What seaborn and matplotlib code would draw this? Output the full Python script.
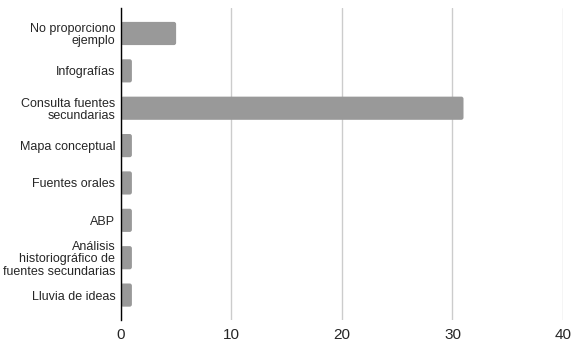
import pandas as pd
import seaborn as sns
import matplotlib.pyplot as plt
from matplotlib.patches import FancyBboxPatch

# categorías y valores
categorias = [
    "No proporciono\nejemplo",
    "Infografías",
    "Consulta fuentes\nsecundarias",
    "Mapa conceptual",
    "Fuentes orales",
    "ABP",
    "Análisis\nhistoriográfico de\nfuentes secundarias",
    "Lluvia de ideas",
]
valores = [5, 1, 31, 1, 1, 1, 1, 1]
ticks_x = [0, 10, 20, 30, 40]

df = pd.DataFrame({"categoria": categorias, "valor": valores})

sns.set_style("white")
plt.rcParams["font.family"] = ["Liberation Sans", "DejaVu Sans"]

fig = plt.figure(figsize=(5.81, 3.51), dpi=100)
ax = fig.add_axes([0.208, 0.088, 0.761, 0.889])

sns.barplot(data=df, x="valor", y="categoria", color="#999999", saturation=1,
            width=0.62, ax=ax, zorder=3)

# esquinas ligeramente redondeadas
for p in list(ax.patches):
    x0, y0 = p.get_x(), p.get_y()
    w, h = p.get_width(), p.get_height()
    r = FancyBboxPatch((x0, y0), w, h,
                       boxstyle="round,pad=0,rounding_size=0.2",
                       mutation_aspect=0.3,
                       facecolor="#999999", edgecolor="none", zorder=3)
    p.remove()
    ax.add_patch(r)

ax.set_xlim(0, 40)
ax.set_ylim(7.67, -0.68)
ax.set_xticks(ticks_x)
ax.xaxis.grid(True, color="#cccccc", linewidth=1, zorder=0)
ax.set_axisbelow(True)
ax.tick_params(axis="x", length=0, labelsize=11, pad=6)
ax.tick_params(axis="y", length=0, labelsize=9, pad=4)
for lbl in ax.get_yticklabels():
    lbl.set_linespacing(1.05)
for s in ["top", "right", "bottom"]:
    ax.spines[s].set_visible(False)
ax.spines["left"].set_color("black")
ax.spines["left"].set_linewidth(1)
ax.spines["left"].set_zorder(5)
ax.set_xlabel("")
ax.set_ylabel("")

fig.savefig("out.png", dpi=100)
